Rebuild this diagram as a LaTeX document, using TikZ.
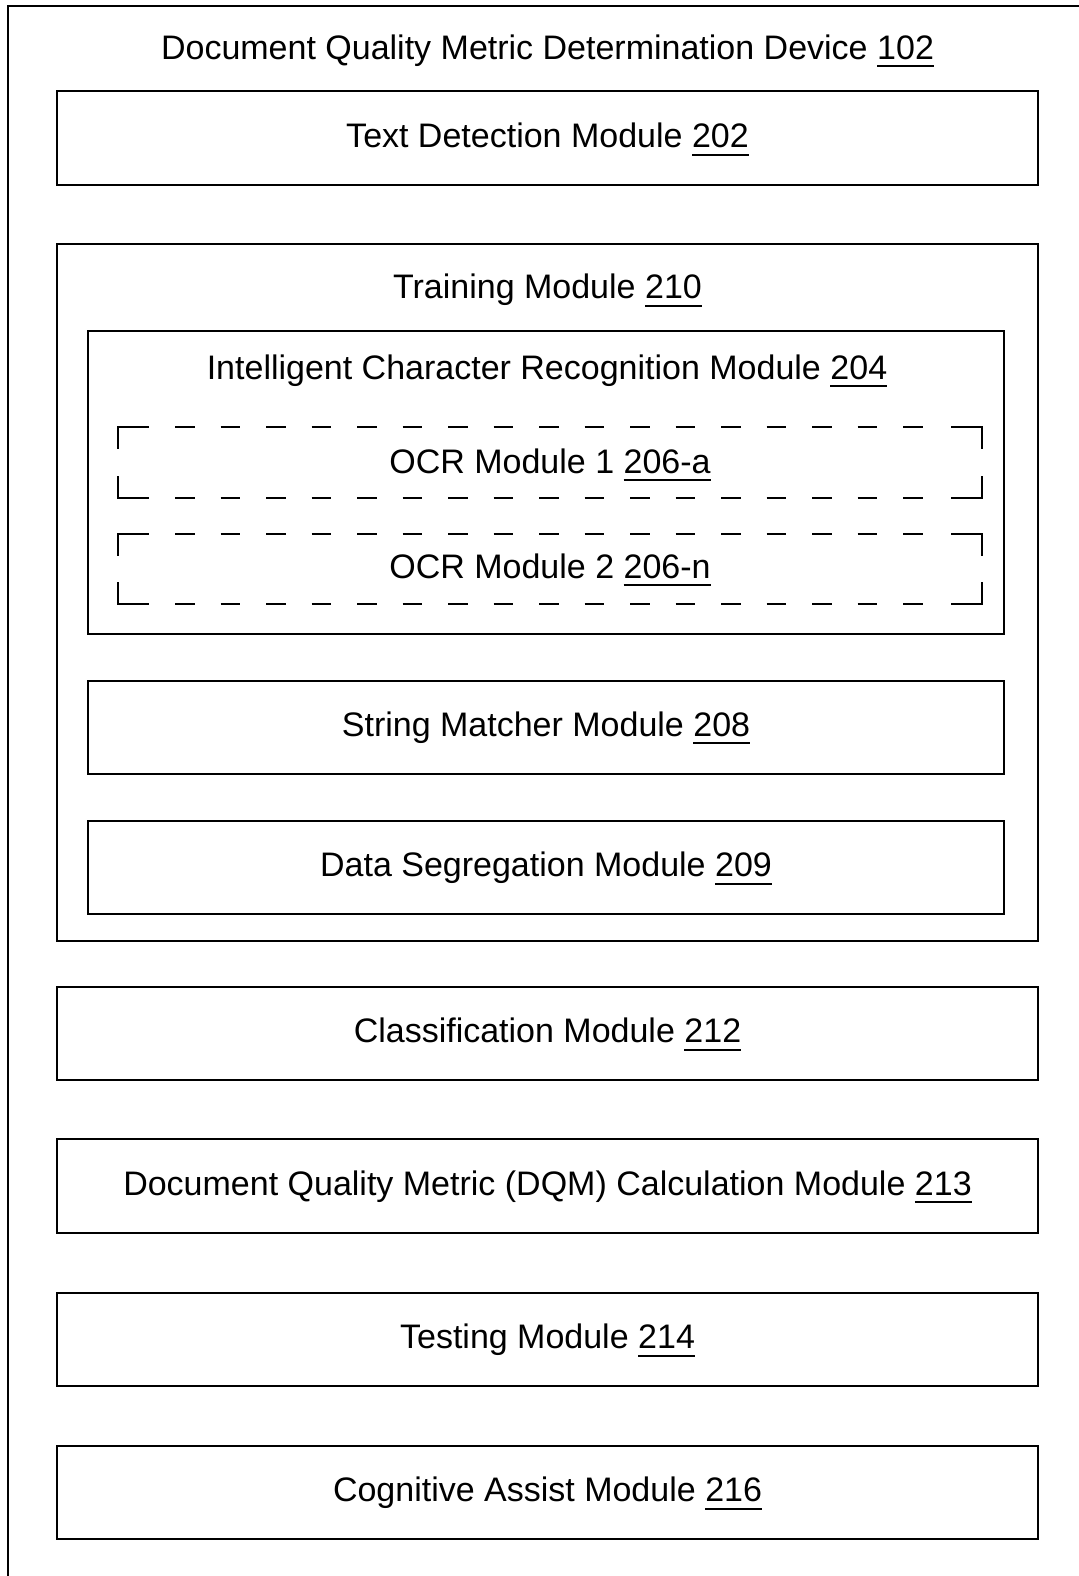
\documentclass[tikz,border=0pt]{standalone}
\usepackage{fontspec}
\setmainfont{Liberation Sans}
\usetikzlibrary{fit,calc}

% underlined reference numeral
\newcommand\refnum[1]{\setbox0=\hbox{#1}\rlap{\rule[-3.9pt]{\wd0}{0.9pt}}\box0}

% dashed frame with solid corner brackets around a named node
\newcommand\ocrframe[1]{%
  \draw[frameline] ($(#1.north west)+(0,22)$) -- (#1.north west) -- ++(31,0);
  \draw[frameline] ($(#1.north east)+(-31,0)$) -- (#1.north east) -- ++(0,22);
  \draw[frameline] ($(#1.south east)+(0,-22)$) -- (#1.south east) -- ++(-31,0);
  \draw[frameline] ($(#1.south west)+(31,0)$) -- (#1.south west) -- ++(0,-22);
  \draw[frameline, dash pattern=on 9.75pt off 13pt]
    ($(#1.north west)+(57.5,0)$) -- ($(#1.north east)+(-57.5,0)$);
  \draw[frameline, dash pattern=on 9.75pt off 13pt]
    ($(#1.south west)+(57.5,0)$) -- ($(#1.south east)+(-57.5,0)$);
}

\begin{document}
\begin{tikzpicture}[x=0.5pt, y=-0.5pt,
  box/.style={draw, line width=1pt, inner sep=0pt},
  area/.style={inner sep=0pt},
  frameline/.style={line width=1pt},
  lbl/.style={anchor=base, inner sep=0pt, font=\fontsize{17}{20}\selectfont},
  outerline/.style={line width=1pt}]

\useasboundingbox (0,0) rectangle (1079,1576);

% device outline (open to the right and bottom)
\draw[outerline] (1090,6) -- (8,6) -- (8,1590);
\node[lbl] (devlbl) at (547.5,59.3) {Document Quality Metric Determination Device \refnum{102}};

% module boxes
\node[box, fit={(57,91) (1038,185)}] (tdm) {};
\node[box, fit={(57,244) (1038,941)}] (train) {};
\node[box, fit={(88,330.5) (1004,634)}] (icr) {};
\node[area, fit={(118,427) (982,498)}] (ocra) {};
\node[area, fit={(118,534) (982,604)}] (ocrn) {};
\node[box, fit={(88,681) (1004,773.5)}] (sm) {};
\node[box, fit={(88,821) (1004,914)}] (ds) {};
\node[box, fit={(57,986.5) (1038,1080)}] (cls) {};
\node[box, fit={(57,1139) (1038,1232.5)}] (dqm) {};
\node[box, fit={(57,1293) (1038,1385.5)}] (tst) {};
\node[box, fit={(57,1445.7) (1038,1538.5)}] (cog) {};

\ocrframe{ocra}
\ocrframe{ocrn}

% labels
\node[lbl] (tdmlbl) at ([yshift=-4.85pt]tdm.center) {Text Detection Module \refnum{202}};
\node[lbl] (trainlbl) at (547.5,298.7) {Training Module \refnum{210}};
\node[lbl] (icrlbl) at (547,379.3) {Intelligent Character Recognition Module \refnum{204}};
\node[lbl] (ocralbl) at (550,473.3) {OCR Module 1 \refnum{206-a}};
\node[lbl] (ocrnlbl) at (550,578.3) {OCR Module 2 \refnum{206-n}};
\node[lbl] (smlbl) at ([yshift=-4.6pt]sm.center) {String Matcher Module \refnum{208}};
\node[lbl] (dslbl) at ([yshift=-4.6pt]ds.center) {Data Segregation Module \refnum{209}};
\node[lbl] (clslbl) at ([yshift=-4.85pt]cls.center) {Classification Module \refnum{212}};
\node[lbl] (dqmlbl) at ([yshift=-4.85pt]dqm.center) {Document Quality Metric (DQM) Calculation Module \refnum{213}};
\node[lbl] (tstlbl) at ([yshift=-4.85pt]tst.center) {Testing Module \refnum{214}};
\node[lbl] (coglbl) at ([yshift=-4.85pt]cog.center) {Cognitive Assist Module \refnum{216}};

\end{tikzpicture}
\end{document}
